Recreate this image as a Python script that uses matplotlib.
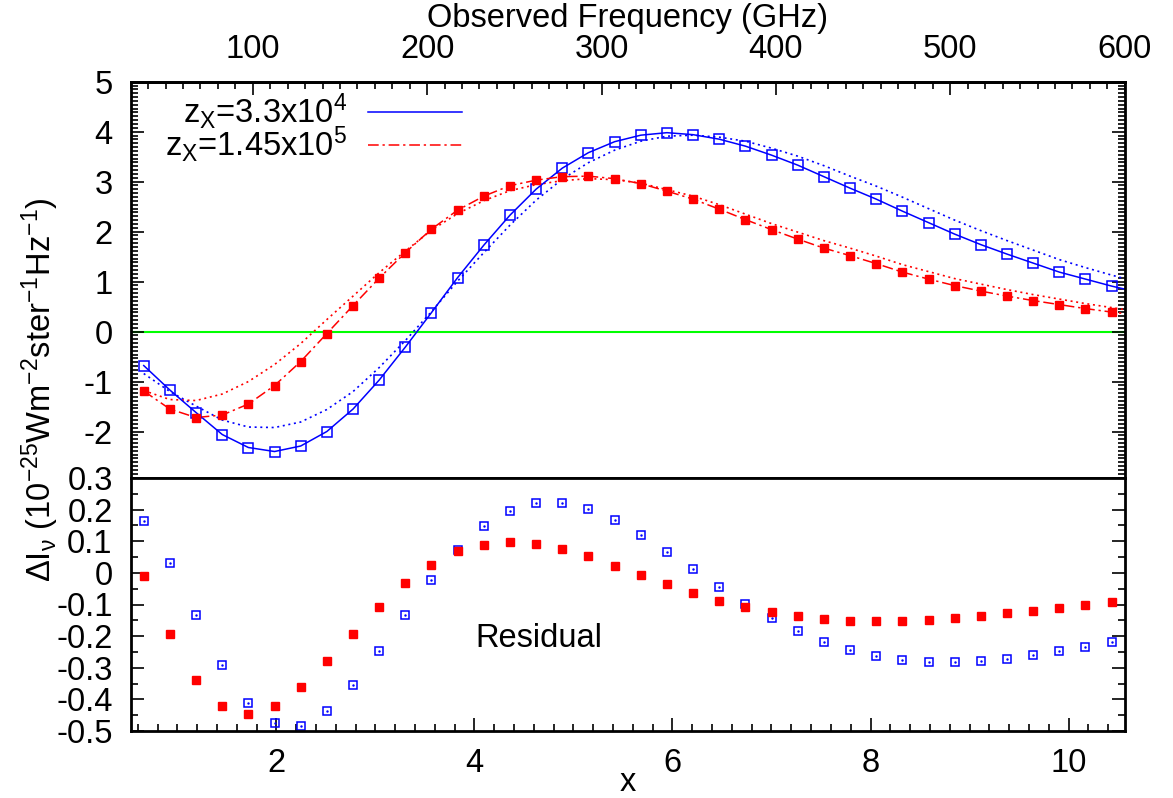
import matplotlib
matplotlib.use('Agg')
import matplotlib.pyplot as plt
from matplotlib.ticker import MultipleLocator, AutoMinorLocator, FuncFormatter, FixedLocator

plt.rcParams['font.family'] = ['Liberation Sans', 'DejaVu Sans']
plt.rcParams['mathtext.fontset'] = 'custom'
plt.rcParams['mathtext.rm'] = 'Liberation Sans'
plt.rcParams['mathtext.it'] = 'Liberation Sans:italic'
plt.rcParams['mathtext.default'] = 'rm'
plt.rcParams['axes.unicode_minus'] = False
plt.rcParams['font.size'] = 23.5

# GHz per unit of x (x = h nu / k T)
GHZ_PER_X = 56.78
x_lo, x_hi = 30 / GHZ_PER_X, 600 / GHZ_PER_X

x_pts = [0.660, 0.924, 1.188, 1.453, 1.717, 1.981, 2.245, 2.509, 2.774, 3.038,
         3.302, 3.566, 3.830, 4.095, 4.359, 4.623, 4.887, 5.151, 5.416, 5.680,
         5.944, 6.208, 6.472, 6.737, 7.001, 7.265, 7.529, 7.793, 8.058, 8.322,
         8.586, 8.850, 9.114, 9.379, 9.643, 9.907, 10.171, 10.435]
freq_ticks = [100, 200, 300, 400, 500, 600]

# z_X = 3.3e4 (blue)
blue_pts = [-0.68, -1.17, -1.62, -2.06, -2.32, -2.40, -2.29, -2.00, -1.55, -0.97,
            -0.31, 0.38, 1.08, 1.73, 2.33, 2.85, 3.27, 3.58, 3.80, 3.93,
            3.98, 3.94, 3.85, 3.71, 3.53, 3.33, 3.10, 2.87, 2.65, 2.41,
            2.18, 1.95, 1.74, 1.55, 1.37, 1.19, 1.05, 0.91]
blue_fit = [-0.84, -1.20, -1.49, -1.77, -1.91, -1.92, -1.81, -1.56, -1.20, -0.72,
            -0.18, 0.40, 1.01, 1.58, 2.13, 2.63, 3.05, 3.38, 3.63, 3.81,
            3.91, 3.93, 3.89, 3.81, 3.67, 3.51, 3.32, 3.11, 2.91, 2.69,
            2.46, 2.23, 2.02, 1.82, 1.63, 1.44, 1.28, 1.13]
blue_res = [0.164, 0.032, -0.134, -0.292, -0.411, -0.476, -0.484, -0.438, -0.355, -0.247,
            -0.133, -0.022, 0.073, 0.147, 0.197, 0.220, 0.220, 0.201, 0.166, 0.120,
            0.067, 0.011, -0.044, -0.097, -0.144, -0.184, -0.218, -0.244, -0.263, -0.276,
            -0.282, -0.283, -0.279, -0.272, -0.261, -0.247, -0.233, -0.217]
blue_edge, blue_fit_edge = 0.85, 1.06

# z_X = 1.45e5 (red)
red_pts = [-1.19, -1.55, -1.72, -1.67, -1.45, -1.08, -0.60, -0.04, 0.52, 1.07,
           1.58, 2.05, 2.43, 2.71, 2.92, 3.03, 3.10, 3.11, 3.06, 2.96,
           2.81, 2.65, 2.45, 2.24, 2.04, 1.85, 1.67, 1.52, 1.36, 1.19,
           1.05, 0.92, 0.81, 0.71, 0.62, 0.54, 0.46, 0.39]
red_fit = [-1.18, -1.36, -1.38, -1.25, -1.00, -0.66, -0.24, 0.24, 0.71, 1.18,
           1.61, 2.03, 2.36, 2.62, 2.82, 2.94, 3.02, 3.06, 3.04, 2.97,
           2.84, 2.71, 2.54, 2.35, 2.16, 1.99, 1.82, 1.67, 1.51, 1.34,
           1.20, 1.06, 0.95, 0.84, 0.74, 0.65, 0.56, 0.48]
red_res = [-0.010, -0.194, -0.338, -0.420, -0.446, -0.420, -0.360, -0.278, -0.193, -0.107,
           -0.031, 0.025, 0.068, 0.089, 0.098, 0.092, 0.076, 0.052, 0.023, -0.006,
           -0.034, -0.063, -0.088, -0.107, -0.124, -0.136, -0.146, -0.153, -0.153, -0.153,
           -0.148, -0.142, -0.136, -0.126, -0.120, -0.110, -0.101, -0.091]
red_edge, red_fit_edge = 0.36, 0.44

labels = [r'z$_{X}$=3.3x10$^{4}$', r'z$_{X}$=1.45x10$^{5}$']

BLUE = '#0000ff'
RED = '#ff0000'

W, H = 1173.0, 798.0
fig = plt.figure(figsize=(W / 100, H / 100), dpi=100)


def box(l, t, r, b):
    return [l / W, 1 - b / H, (r - l) / W, (b - t) / H]


ax1 = fig.add_axes(box(130.7, 81.7, 1124.7, 478))
ax2 = fig.add_axes(box(130.7, 478, 1124.7, 731))

x_curve = x_pts + [x_hi]

# ---- upper panel
ax1.axhline(0, color='#00ff00', lw=1.5, zorder=1)
ax1.plot(x_curve, blue_fit + [blue_fit_edge], color=BLUE, lw=1.2, dashes=(1.2, 2.2))
ax1.plot(x_curve, red_fit + [red_fit_edge], color=RED, lw=1.2, dashes=(1.2, 2.2))
ax1.plot(x_curve, blue_pts + [blue_edge], color=BLUE, lw=1.1)
ax1.plot(x_curve, red_pts + [red_edge], color=RED, lw=1.1, dashes=(7, 2.5, 1.5, 2.5))
ax1.plot(x_pts, blue_pts, 's', mfc='none', mec=BLUE, ms=6.8, mew=1.1)
ax1.plot(x_pts, red_pts, 's', color=RED, ms=6.2)

ax1.set_xlim(x_lo, x_hi)
ax1.set_ylim(-2.93, 5)
ax1.yaxis.set_major_locator(MultipleLocator(1))
ax1.yaxis.set_minor_locator(AutoMinorLocator(13))
ax1.tick_params(which='both', direction='in', left=True, right=True,
                top=False, bottom=False, labelbottom=False, width=1.2)
ax1.tick_params(which='major', length=9.5, pad=13)
ax1.tick_params(which='minor', length=5)

sec = ax1.secondary_xaxis('top', functions=(lambda x: x * GHZ_PER_X,
                                             lambda f: f / GHZ_PER_X))
sec.xaxis.set_major_locator(FixedLocator(freq_ticks))
sec.xaxis.set_minor_locator(MultipleLocator(10))
sec.tick_params(which='both', direction='in', width=1.2)
sec.tick_params(which='major', length=9.5, pad=12)
sec.tick_params(which='minor', length=5)

# legend drawn by hand: right aligned text, line sample to its right
ax1.text(0.2176, 0.8966, labels[0], transform=ax1.transAxes, ha='right', va='baseline')
ax1.text(0.2176, 0.813, labels[1], transform=ax1.transAxes, ha='right', va='baseline')
ax1.plot([0.2387, 0.3333], [0.9228, 0.9228], transform=ax1.transAxes, color=BLUE, lw=1.1)
ax1.plot([0.2387, 0.3333], [0.8403, 0.8403], transform=ax1.transAxes, color=RED, lw=1.1,
         dashes=(7, 2.5, 1.5, 2.5))

# ---- lower panel (residuals)
ax2.plot(x_pts, blue_res, 's', mfc='none', mec=BLUE, ms=6.2, mew=1.1)
ax2.plot(x_pts, blue_res, '.', color=BLUE, ms=1.5)
ax2.plot(x_pts, red_res, 's', color=RED, ms=6.4)
ax2.text(0.4107, 0.333, 'Residual', transform=ax2.transAxes, ha='center', va='baseline')

ax2.set_xlim(x_lo, x_hi)
ax2.set_ylim(-0.5, 0.3)
ax2.xaxis.set_major_locator(MultipleLocator(2))
ax2.xaxis.set_minor_locator(MultipleLocator(0.2))
ax2.yaxis.set_major_locator(MultipleLocator(0.1))
ax2.yaxis.set_minor_locator(MultipleLocator(0.05))
ax2.yaxis.set_major_formatter(FuncFormatter(lambda v, p: '%g' % (round(v, 2) + 0.0)))
ax2.tick_params(which='both', direction='in', left=True, right=True,
                top=False, bottom=True, width=1.2)
ax2.tick_params(which='major', length=9.5, pad=13)
ax2.tick_params(axis='x', which='major', pad=12)
ax2.tick_params(which='minor', length=5)

for a in (ax1, ax2):
    for s in a.spines.values():
        s.set_linewidth(2)
for s in sec.spines.values():
    s.set_linewidth(2)

fig.text(627.7 / W, 1 - 27 / H, 'Observed Frequency (GHz)', ha='center', va='baseline')
fig.text(627.7 / W, 1 - 791 / H, 'x', ha='center', va='baseline')
fig.text(40 / W, 1 - 390 / H,
         r'ΔI$_{ν}$ (10$^{-25}$Wm$^{-2}$ster$^{-1}$Hz$^{-1}$)',
         rotation=90, ha='center', va='center')

fig.savefig('out.png', dpi=100)
